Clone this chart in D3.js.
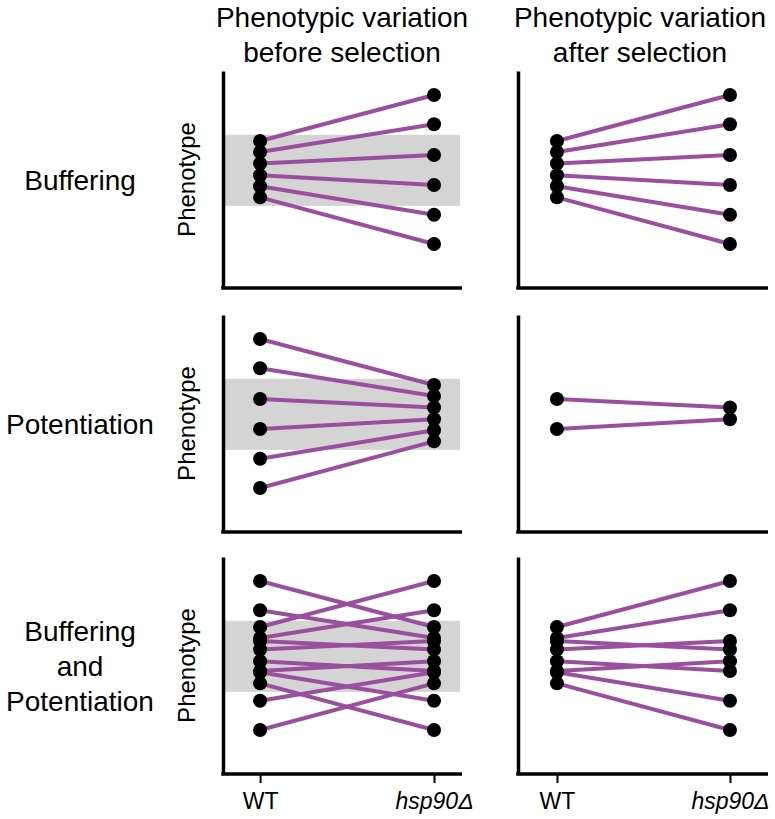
<!DOCTYPE html>
<html>
<head>
<meta charset="utf-8">
<script src="https://cdn.jsdelivr.net/npm/d3@7"></script>
<style>
  html, body { margin: 0; padding: 0; background: #fff; }
  svg { display: block; font-family: "Liberation Sans", Arial, Helvetica, sans-serif; }
</style>
</head>
<body>
<svg id="chart" width="775" height="819"></svg>
<script>
// ---------------- DATA ----------------
const conditions = ["WT", "hsp90Δ"];
const columnTitles = [["Phenotypic variation", "before selection"], ["Phenotypic variation", "after selection"]];
const rowLabels = [["Buffering"], ["Potentiation"], ["Buffering", "and", "Potentiation"]];
const axisLabel = "Phenotype";

// phenotype values (arbitrary units, 0-102)
const bufferingWT  = [69.1, 63.9, 58.5, 53.0, 47.8, 42.6];
const bufferingHsp = [90.7, 77.0, 62.5, 48.4, 34.4, 20.7];
const potentiationWT  = [90.7, 77.0, 62.5, 48.4, 34.4, 20.7];
const potentiationHsp = [69.1, 63.9, 58.5, 53.0, 47.8, 42.6];
// after selection (potentiation lines whose WT value lies inside the band)
const potentiationSelWT  = [62.5, 48.4];
const potentiationSelHsp = [58.5, 53.0];
// pre-selection phenotypic window (grey band)
const bandRange = [38.6, 72.0];
const yDomain = [0, 102];

// ---------------- LAYOUT ----------------
const svg = d3.select("#chart");
const purple = "#9a4f9e";
const rowBottoms = [288, 532, 774];
const axisH = 217;
const cols = [
  { x0: 223, x1: 462, pad: 0.187, align: 0.57, bandEnd: 460 },
  { x0: 518, x1: 768, pad: 0.2225, align: 0.506, bandEnd: 460 }
];

const zipPairs = (a, b) => a.map((v, i) => ({ wt: v, hsp: b[i] }));
const buffering = zipPairs(bufferingWT, bufferingHsp);
const potentiation = zipPairs(potentiationWT, potentiationHsp);
const potentiationSel = zipPairs(potentiationSelWT, potentiationSelHsp);

const panels = [
  { row: 0, col: 0, pairs: buffering, band: true },
  { row: 0, col: 1, pairs: buffering, band: false },
  { row: 1, col: 0, pairs: potentiation, band: true },
  { row: 1, col: 1, pairs: potentiationSel, band: false },
  { row: 2, col: 0, pairs: buffering.concat(potentiation), band: true },
  { row: 2, col: 1, pairs: buffering.concat(potentiationSel), band: false }
];

panels.forEach(p => {
  const c = cols[p.col];
  const bottom = rowBottoms[p.row];
  const y = d3.scaleLinear().domain(yDomain).range([bottom, bottom - axisH]);
  const x = d3.scalePoint().domain(conditions).range([c.x0, c.x1]).padding(c.pad).align(c.align);
  const g = svg.append("g");

  if (p.band) {
    g.append("rect")
      .attr("x", c.x0).attr("width", c.bandEnd - c.x0)
      .attr("y", y(bandRange[1])).attr("height", y(bandRange[0]) - y(bandRange[1]))
      .attr("fill", "#d4d4d4");
  }

  g.selectAll("line.pair").data(p.pairs).join("line")
    .attr("class", "pair")
    .attr("x1", x(conditions[0])).attr("y1", d => y(d.wt))
    .attr("x2", x(conditions[1])).attr("y2", d => y(d.hsp))
    .attr("stroke", purple).attr("stroke-width", 4);

  const pts = [];
  p.pairs.forEach(d => { pts.push({ c: conditions[0], v: d.wt }); pts.push({ c: conditions[1], v: d.hsp }); });
  g.selectAll("circle").data(pts).join("circle")
    .attr("cx", d => x(d.c)).attr("cy", d => y(d.v)).attr("r", 7)
    .attr("fill", "#000");

  // axes
  const yAxis = d3.axisLeft(y).tickValues([]).tickSizeOuter(0);
  const ga = g.append("g").attr("transform", `translate(${c.x0},0)`).call(yAxis);
  ga.select(".domain").attr("stroke", "#000").attr("stroke-width", 3.5);

  const xAxis = d3.axisBottom(x).tickSizeOuter(0)
    .tickValues(p.row === 2 ? conditions : []).tickSize(9).tickPadding(10);
  const gx = g.append("g").attr("transform", `translate(0,${bottom})`).call(xAxis);
  gx.attr("font-size", null).attr("font-family", null);
  gx.select(".domain").attr("stroke", "#000").attr("stroke-width", 3.5)
    .attr("d", `M${c.x0 - 1.75},0H${c.x1}`);
  gx.selectAll(".tick line").attr("stroke", "#000").attr("stroke-width", 2);
  gx.selectAll(".tick text")
    .style("font-size", "23px").attr("fill", "#000")
    .style("font-family", "'Liberation Sans', Arial, sans-serif")
    .style("font-style", d => d === conditions[1] ? "italic" : "normal");

  if (p.col === 0) {
    const cy = bottom - axisH / 2;
    svg.append("text")
      .attr("transform", `translate(195,${cy}) rotate(-90)`)
      .attr("text-anchor", "middle").attr("font-size", 24).attr("fill", "#000")
      .text(axisLabel);
  }
});

// column titles
const titleCenters = [342, 640];
columnTitles.forEach((lines, i) => {
  lines.forEach((t, j) => {
    svg.append("text")
      .attr("x", titleCenters[i]).attr("y", 27 + j * 35)
      .attr("text-anchor", "middle").attr("font-size", 28).attr("fill", "#000")
      .text(t);
  });
});

// row labels
rowLabels.forEach((lines, i) => {
  const cy = rowBottoms[i] - axisH / 2;
  const n = lines.length;
  lines.forEach((t, j) => {
    svg.append("text")
      .attr("x", 80)
      .attr("y", cy + (j - (n - 1) / 2) * 35 + 10)
      .attr("text-anchor", "middle").attr("font-size", 28).attr("fill", "#000")
      .text(t);
  });
});
</script>
</body>
</html>
